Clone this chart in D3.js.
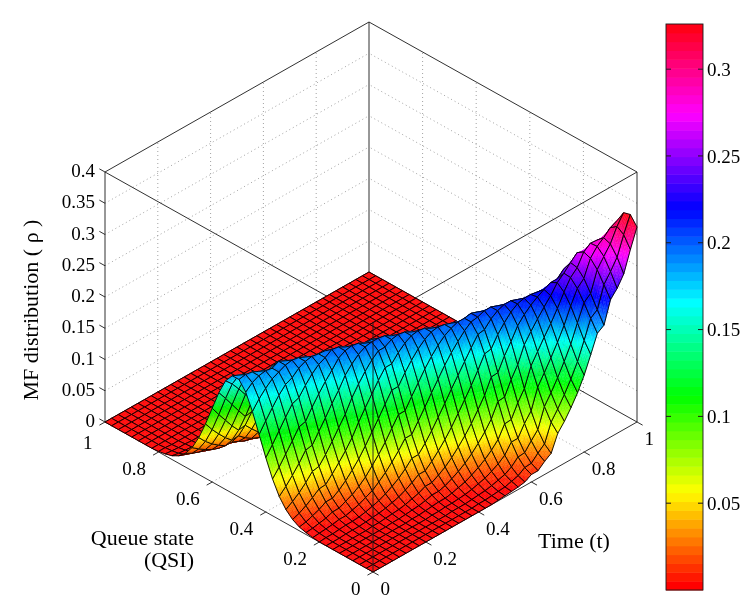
<!DOCTYPE html>
<html>
<head>
<meta charset="utf-8">
<script src="https://cdn.jsdelivr.net/npm/d3@7"></script>
<style>
  body { margin: 0; background: #fff; }
  #chart { position: relative; width: 747px; height: 598px; }
  #chart canvas, #chart svg { position: absolute; left: 0; top: 0; }
  text { font-family: "Liberation Serif", "Times New Roman", serif; fill: #000; }
</style>
</head>
<body>
<div id="chart">
  <canvas id="surface"></canvas>
  <svg id="overlay" width="747" height="598"></svg>
</div>
<script>
// grid of the surface: queue state (QSI) and time, 41 samples each
const queueState = [0, 0.025, 0.05, 0.075, 0.1, 0.125, 0.15, 0.175, 0.2, 0.225, 0.25, 0.275, 0.3, 0.325, 0.35, 0.375, 0.4,
  0.425, 0.45, 0.475, 0.5, 0.525, 0.55, 0.575, 0.6, 0.625, 0.65, 0.675, 0.7, 0.725, 0.75, 0.775, 0.8, 0.825, 0.85,
  0.875, 0.9, 0.925, 0.95, 0.975, 1]
const timeSteps = [0, 0.025, 0.05, 0.075, 0.1, 0.125, 0.15, 0.175, 0.2, 0.225, 0.25, 0.275, 0.3, 0.325, 0.35, 0.375, 0.4,
  0.425, 0.45, 0.475, 0.5, 0.525, 0.55, 0.575, 0.6, 0.625, 0.65, 0.675, 0.7, 0.725, 0.75, 0.775, 0.8, 0.825, 0.85,
  0.875, 0.9, 0.925, 0.95, 0.975, 1]

// MF distribution rho, one row per time step, values along queue state
// (entries not listed at the end of a row are 0, the flat red part)
const rho = [
  [0,0,0,0,0,0,0,0,0,0.001,0.003,0.006,0.012,0.022,0.037,0.059,0.087,0.118,0.149,0.174,0.188,0.188,0.174,0.149,0.118,0.087,0.059,0.037,0.022,0.012,0.006,0.003,0.001],
  [0,0,0,0,0,0,0,0,0.001,0.002,0.004,0.008,0.016,0.029,0.047,0.072,0.102,0.134,0.163,0.183,0.190,0.183,0.163,0.134,0.102,0.072,0.047,0.029,0.016,0.008,0.004,0.002,0.001],
  [0,0,0,0,0,0,0,0,0.001,0.003,0.006,0.012,0.022,0.037,0.059,0.087,0.118,0.149,0.174,0.188,0.188,0.174,0.149,0.118,0.087,0.059,0.037,0.022,0.012,0.006,0.003,0.001],
  [0,0,0,0,0,0,0,0.001,0.002,0.004,0.008,0.016,0.029,0.047,0.072,0.102,0.134,0.163,0.183,0.190,0.183,0.163,0.134,0.102,0.072,0.047,0.029,0.016,0.008,0.004,0.002,0.001],
  [0,0,0,0,0,0,0,0.001,0.003,0.006,0.012,0.022,0.037,0.059,0.087,0.118,0.149,0.174,0.188,0.188,0.174,0.149,0.118,0.087,0.059,0.037,0.022,0.012,0.006,0.003,0.001],
  [0,0,0,0,0,0,0,0.001,0.003,0.006,0.012,0.022,0.038,0.061,0.089,0.121,0.153,0.179,0.193,0.193,0.179,0.153,0.121,0.089,0.061,0.038,0.022,0.012,0.006,0.003,0.001],
  [0,0,0,0,0,0,0.001,0.002,0.004,0.009,0.017,0.029,0.049,0.074,0.105,0.138,0.167,0.188,0.195,0.188,0.167,0.138,0.105,0.074,0.049,0.029,0.017,0.009,0.004,0.002,0.001],
  [0,0,0,0,0,0,0.001,0.003,0.006,0.012,0.022,0.038,0.061,0.089,0.121,0.153,0.179,0.193,0.193,0.179,0.153,0.121,0.089,0.061,0.038,0.022,0.012,0.006,0.003,0.001],
  [0,0,0,0,0,0.001,0.002,0.004,0.009,0.017,0.029,0.049,0.074,0.105,0.138,0.167,0.188,0.195,0.188,0.167,0.138,0.105,0.074,0.049,0.029,0.017,0.009,0.004,0.002,0.001],
  [0,0,0,0,0,0.001,0.003,0.006,0.012,0.022,0.038,0.061,0.089,0.121,0.153,0.179,0.193,0.193,0.179,0.153,0.121,0.089,0.061,0.038,0.022,0.012,0.006,0.003,0.001],
  [0,0,0,0,0.001,0.002,0.004,0.009,0.017,0.030,0.050,0.076,0.108,0.141,0.171,0.192,0.200,0.192,0.171,0.141,0.108,0.076,0.050,0.030,0.017,0.009,0.004,0.002,0.001],
  [0,0,0,0,0.001,0.003,0.006,0.012,0.023,0.039,0.062,0.092,0.125,0.157,0.183,0.198,0.198,0.183,0.157,0.125,0.092,0.062,0.039,0.023,0.012,0.006,0.003,0.001],
  [0,0,0,0.001,0.002,0.004,0.009,0.017,0.030,0.050,0.076,0.108,0.141,0.171,0.192,0.200,0.192,0.171,0.141,0.108,0.076,0.050,0.030,0.017,0.009,0.004,0.002,0.001],
  [0,0,0,0.001,0.003,0.006,0.012,0.023,0.039,0.062,0.092,0.125,0.157,0.183,0.198,0.198,0.183,0.157,0.125,0.092,0.062,0.039,0.023,0.012,0.006,0.003,0.001],
  [0,0,0.001,0.002,0.004,0.009,0.017,0.030,0.050,0.076,0.108,0.141,0.171,0.192,0.200,0.192,0.171,0.141,0.108,0.076,0.050,0.030,0.017,0.009,0.004,0.002,0.001],
  [0,0,0.001,0.002,0.004,0.009,0.017,0.030,0.050,0.076,0.108,0.141,0.171,0.192,0.200,0.192,0.171,0.141,0.108,0.076,0.050,0.030,0.017,0.009,0.004,0.002,0.001],
  [0,0,0.001,0.003,0.006,0.012,0.023,0.039,0.062,0.092,0.125,0.157,0.183,0.198,0.198,0.183,0.157,0.125,0.092,0.062,0.039,0.023,0.012,0.006,0.003,0.001],
  [0,0.001,0.002,0.004,0.009,0.017,0.030,0.050,0.076,0.108,0.141,0.171,0.192,0.200,0.192,0.171,0.141,0.108,0.076,0.050,0.030,0.017,0.009,0.004,0.002,0.001],
  [0,0.001,0.003,0.006,0.012,0.023,0.039,0.062,0.092,0.125,0.157,0.183,0.198,0.198,0.183,0.157,0.125,0.092,0.062,0.039,0.023,0.012,0.006,0.003,0.001],
  [0.001,0.002,0.004,0.009,0.017,0.030,0.050,0.076,0.108,0.141,0.171,0.192,0.200,0.192,0.171,0.141,0.108,0.076,0.050,0.030,0.017,0.009,0.004,0.002,0.001],
  [0.002,0.003,0.006,0.012,0.023,0.039,0.062,0.092,0.125,0.157,0.183,0.198,0.198,0.183,0.157,0.125,0.092,0.062,0.039,0.023,0.012,0.006,0.003,0.001],
  [0.003,0.004,0.009,0.017,0.030,0.050,0.076,0.108,0.141,0.171,0.192,0.200,0.192,0.171,0.141,0.108,0.076,0.050,0.030,0.017,0.009,0.004,0.002,0.001],
  [0.004,0.007,0.012,0.023,0.039,0.062,0.092,0.125,0.157,0.183,0.198,0.198,0.183,0.157,0.125,0.092,0.062,0.039,0.023,0.012,0.006,0.003,0.001],
  [0.006,0.010,0.018,0.031,0.050,0.077,0.109,0.143,0.173,0.194,0.202,0.194,0.173,0.143,0.109,0.077,0.050,0.030,0.017,0.009,0.004,0.002,0.001],
  [0.012,0.017,0.028,0.046,0.069,0.099,0.132,0.163,0.188,0.202,0.202,0.187,0.160,0.127,0.093,0.063,0.040,0.023,0.013,0.006,0.003,0.001],
  [0.012,0.018,0.029,0.046,0.070,0.100,0.133,0.165,0.190,0.204,0.204,0.189,0.162,0.128,0.094,0.064,0.040,0.023,0.013,0.006,0.003,0.001],
  [0.021,0.028,0.042,0.064,0.091,0.122,0.154,0.182,0.201,0.208,0.200,0.178,0.147,0.112,0.079,0.052,0.031,0.018,0.009,0.004,0.002,0.001],
  [0.028,0.037,0.054,0.078,0.108,0.140,0.171,0.195,0.208,0.208,0.193,0.165,0.131,0.096,0.065,0.041,0.024,0.013,0.006,0.003,0.001],
  [0.054,0.066,0.085,0.110,0.138,0.166,0.190,0.206,0.212,0.204,0.182,0.150,0.114,0.081,0.053,0.032,0.018,0.009,0.004,0.002,0.001],
  [0.067,0.081,0.101,0.127,0.155,0.181,0.202,0.213,0.212,0.196,0.168,0.133,0.098,0.067,0.042,0.024,0.013,0.007,0.003,0.001,0.001],
  [0.083,0.098,0.119,0.145,0.172,0.195,0.211,0.216,0.208,0.185,0.153,0.116,0.082,0.054,0.033,0.018,0.009,0.005,0.002,0.001],
  [0.101,0.117,0.139,0.164,0.188,0.208,0.218,0.216,0.200,0.171,0.136,0.100,0.068,0.043,0.025,0.013,0.007,0.003,0.001,0.001],
  [0.123,0.139,0.161,0.185,0.206,0.220,0.224,0.214,0.190,0.157,0.120,0.085,0.055,0.034,0.019,0.010,0.005,0.002,0.001],
  [0.150,0.167,0.189,0.210,0.226,0.235,0.229,0.212,0.182,0.144,0.106,0.072,0.045,0.026,0.014,0.007,0.003,0.001,0.001],
  [0.178,0.196,0.215,0.232,0.243,0.244,0.229,0.204,0.168,0.128,0.090,0.059,0.036,0.020,0.010,0.005,0.002,0.001],
  [0.185,0.204,0.224,0.242,0.253,0.255,0.239,0.212,0.175,0.133,0.094,0.062,0.037,0.021,0.011,0.005,0.002,0.001],
  [0.220,0.238,0.256,0.268,0.272,0.265,0.237,0.203,0.160,0.118,0.080,0.050,0.029,0.016,0.008,0.004,0.002,0.001],
  [0.232,0.253,0.271,0.281,0.280,0.260,0.229,0.188,0.143,0.101,0.066,0.040,0.022,0.012,0.006,0.002,0.001],
  [0.249,0.270,0.285,0.289,0.279,0.252,0.213,0.168,0.123,0.083,0.052,0.030,0.016,0.008,0.004,0.002,0.001],
  [0.282,0.300,0.307,0.299,0.276,0.239,0.194,0.146,0.103,0.067,0.040,0.023,0.012,0.006,0.003,0.001],
  [0.312,0.326,0.323,0.304,0.269,0.223,0.173,0.125,0.084,0.053,0.031,0.016,0.008,0.004,0.002,0.001]
]

const zTicks = [0, 0.05, 0.1, 0.15, 0.2, 0.25, 0.3, 0.35, 0.4]
const queueTicks = [0, 0.2, 0.4, 0.6, 0.8, 1]
const timeTicks = [0, 0.2, 0.4, 0.6, 0.8, 1]
const colorTicks = [0.05, 0.1, 0.15, 0.2, 0.25, 0.3]

const width = 747
const height = 598
const font = 19

// full grid, padded with the zeros of the flat part
const z = rho.map((row) => queueState.map((_, j) => row[j] || 0))

// orthographic view: screen offset per unit of each axis
const origin = [373, 572]
const qx = d3.scaleLinear().domain([0, 1]).range([0, -268])
const qy = d3.scaleLinear().domain([0, 1]).range([0, -150])
const tx = d3.scaleLinear().domain([0, 1]).range([0, 264])
const ty = d3.scaleLinear().domain([0, 1]).range([0, -150])
const zy = d3.scaleLinear().domain([0, 0.4]).range([0, -250])

function project(q, t, v) {
  return [origin[0] + qx(q) + tx(t), origin[1] + qy(q) + ty(t) + zy(v)]
}
// distance away from the viewer, for painter's order
function depth(q, t, v) {
  return 0.58 * q + 0.588 * t - 1.134 * v
}

// colormap hsv(64)
const cmax = d3.max(z.flat())
const hsv = d3.range(64).map((k) => d3.hsl((k / 64) * 360, 1, 0.5).formatHex())
const color = d3.scaleQuantize().domain([0, cmax]).range(hsv)

// canvas for the box, grid and surface
const dpi = window.devicePixelRatio || 1
const canvas = d3.select('#surface')
  .attr('width', width * dpi)
  .attr('height', height * dpi)
  .style('width', `${width}px`)
  .style('height', `${height}px`)
const ctx = canvas.node().getContext('2d')
ctx.scale(dpi, dpi)

function line(a, b) {
  const p = project(...a)
  const r = project(...b)
  ctx.moveTo(p[0], p[1])
  ctx.lineTo(r[0], r[1])
}

// dotted grid on the back walls and floor
ctx.beginPath()
for (const t of timeTicks.slice(1, -1)) {
  line([1, t, 0], [1, t, 0.4])
  line([0, t, 0], [1, t, 0])
}
for (const q of queueTicks.slice(1, -1)) {
  line([q, 1, 0], [q, 1, 0.4])
  line([q, 0, 0], [q, 1, 0])
}
for (const v of zTicks.slice(1, -1)) {
  line([1, 0, v], [1, 1, v])
  line([0, 1, v], [1, 1, v])
}
ctx.setLineDash([1, 3])
ctx.strokeStyle = '#8a8a8a'
ctx.lineWidth = 0.8
ctx.stroke()
ctx.setLineDash([])

// box edges and ticks, behind the surface
const tk = 0.021
ctx.beginPath()
const edges = [
  [[0, 0, 0], [1, 0, 0]], [[0, 0, 0], [0, 1, 0]], [[1, 0, 0], [1, 1, 0]], [[0, 1, 0], [1, 1, 0]],
  [[0, 0, 0.4], [1, 0, 0.4]], [[0, 0, 0.4], [0, 1, 0.4]], [[1, 0, 0.4], [1, 1, 0.4]], [[0, 1, 0.4], [1, 1, 0.4]],
  [[1, 0, 0], [1, 0, 0.4]], [[0, 1, 0], [0, 1, 0.4]], [[1, 1, 0], [1, 1, 0.4]]
]
edges.forEach(([a, b]) => line(a, b))
zTicks.forEach((v) => line([1, 0, v], [1 + tk, 0, v]))
queueTicks.forEach((q) => line([q, 0, 0], [q, -tk, 0]))
timeTicks.forEach((t) => line([0, t, 0], [-tk, t, 0]))
ctx.strokeStyle = '#1a1a1a'
ctx.lineWidth = 0.9
ctx.stroke()

// surface faces, far ones first
const faces = []
for (let i = 0; i < timeSteps.length - 1; i++) {
  for (let j = 0; j < queueState.length - 1; j++) {
    const corners = [[i, j], [i, j + 1], [i + 1, j + 1], [i + 1, j]]
    const d = d3.mean(corners, ([a, b]) => depth(queueState[b], timeSteps[a], z[a][b]))
    faces.push({ i, j, d })
  }
}
faces.sort((a, b) => b.d - a.d)

// interpolated shading inside a face (like shading interp), mesh edges on top
const sub = 5
function facePoint(i, j, u, v) {
  const q = queueState[j] + (queueState[j + 1] - queueState[j]) * u
  const t = timeSteps[i] + (timeSteps[i + 1] - timeSteps[i]) * v
  const a = z[i][j] + (z[i][j + 1] - z[i][j]) * u
  const b = z[i + 1][j] + (z[i + 1][j + 1] - z[i + 1][j]) * u
  const val = a + (b - a) * v
  return { p: project(q, t, val), val }
}

ctx.lineJoin = 'round'
for (const f of faces) {
  const pts = []
  for (let b = 0; b <= sub; b++) {
    pts.push([])
    for (let a = 0; a <= sub; a++) pts[b].push(facePoint(f.i, f.j, a / sub, b / sub))
  }
  for (let b = 0; b < sub; b++) {
    for (let a = 0; a < sub; a++) {
      const c = [pts[b][a], pts[b][a + 1], pts[b + 1][a + 1], pts[b + 1][a]]
      const fill = color(d3.mean(c, (p) => p.val))
      ctx.beginPath()
      ctx.moveTo(...c[0].p)
      for (let k = 1; k < 4; k++) ctx.lineTo(...c[k].p)
      ctx.closePath()
      ctx.fillStyle = fill
      ctx.fill()
      ctx.strokeStyle = fill
      ctx.lineWidth = 0.35
      ctx.stroke()
    }
  }
  ctx.beginPath()
  ctx.moveTo(...pts[0][0].p)
  ctx.lineTo(...pts[0][sub].p)
  ctx.lineTo(...pts[sub][sub].p)
  ctx.lineTo(...pts[sub][0].p)
  ctx.closePath()
  ctx.strokeStyle = '#000'
  ctx.lineWidth = 0.9
  ctx.stroke()
}

// front vertical edge is drawn over the surface
ctx.beginPath()
line([0, 0, 0], [0, 0, 0.4])
ctx.strokeStyle = '#1a1a1a'
ctx.lineWidth = 0.9
ctx.stroke()

// texts and colorbar
const svg = d3.select('#overlay')
const labels = svg.append('g').attr('font-size', font)
zTicks.forEach((v) => {
  const p = project(1, 0, v)
  labels.append('text').attr('x', p[0] - 10).attr('y', p[1] - 1.5).attr('dy', '0.35em')
    .attr('text-anchor', 'end').text(String(v))
})
queueTicks.forEach((q) => {
  const p = project(q, 0, 0)
  labels.append('text').attr('x', p[0] - 12.5).attr('y', p[1] + (q === 1 ? 20 : 16.5)).attr('dy', '0.35em')
    .attr('text-anchor', 'end').text(String(q))
})
timeTicks.forEach((t) => {
  const p = project(0, t, 0)
  labels.append('text').attr('x', p[0] + 7.5).attr('y', p[1] + 16.5).attr('dy', '0.35em')
    .attr('text-anchor', 'start').text(String(t))
})

const titles = svg.append('g').attr('font-size', 22)
const qsi = titles.append('text').attr('text-anchor', 'end')
qsi.append('tspan').attr('x', 194).attr('y', 545).text('Queue state')
qsi.append('tspan').attr('x', 194).attr('y', 567).text('(QSI)')
titles.append('text').attr('x', 538).attr('y', 548).text('Time (t)')
titles.append('text').attr('transform', 'translate(38,310) rotate(-90)')
  .attr('text-anchor', 'middle').text('MF distribution ( \u03c1 )')

const cb = { x0: 666, x1: 703 }
const cbY = d3.scaleLinear().domain([0, cmax]).range([590, 24])
const bar = svg.append('g')
bar.selectAll('rect')
  .data(hsv)
  .join('rect')
  .attr('x', cb.x0)
  .attr('width', cb.x1 - cb.x0)
  .attr('y', (c, k) => cbY(((k + 1) / 64) * cmax))
  .attr('height', (c, k) => cbY((k / 64) * cmax) - cbY(((k + 1) / 64) * cmax) + 0.5)
  .attr('fill', (c) => c)
bar.append('rect')
  .attr('x', cb.x0).attr('y', cbY(cmax)).attr('width', cb.x1 - cb.x0).attr('height', cbY(0) - cbY(cmax))
  .attr('fill', 'none').attr('stroke', '#1a1a1a').attr('stroke-width', 0.9)
colorTicks.forEach((v) => {
  const y = cbY(v)
  bar.append('line').attr('x1', cb.x0).attr('x2', cb.x0 + 5).attr('y1', y).attr('y2', y).attr('stroke', '#1a1a1a')
  bar.append('line').attr('x1', cb.x1 - 5).attr('x2', cb.x1).attr('y1', y).attr('y2', y).attr('stroke', '#1a1a1a')
  bar.append('text').attr('x', cb.x1 + 4).attr('y', y).attr('dy', '0.35em').attr('font-size', font).text(String(v))
})
</script>
</body>
</html>
